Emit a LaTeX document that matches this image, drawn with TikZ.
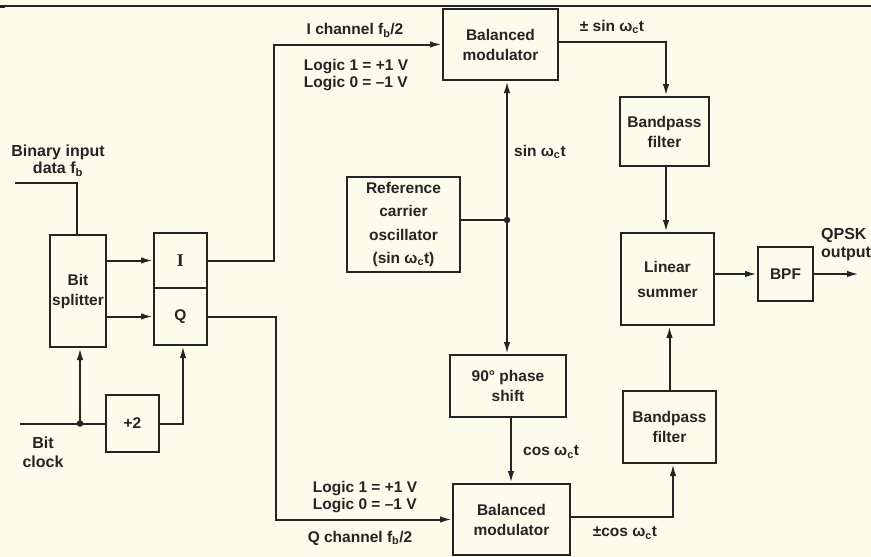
\documentclass[tikz,border=0pt]{standalone}
\usepackage{fontspec}
\setmainfont{Liberation Sans}
\newfontfamily\serifI{Liberation Serif}
\usetikzlibrary{arrows.meta}
\definecolor{bg}{RGB}{252,252,237}
\definecolor{ink}{RGB}{36,36,36}
\tikzset{
  blk/.style={draw=ink, line width=2pt, align=center, inner sep=0pt, text=ink,
    font=\bfseries\fontsize{15.5}{20}\selectfont},
  lbl/.style={text=ink, align=center, inner sep=0pt,
    font=\bfseries\fontsize{15.5}{17}\selectfont},
  wire/.style={draw=ink, line width=2pt},
  arr/.style={wire, -{Latex[length=12pt,width=6.5pt]}},
  jdot/.style={fill=ink, circle, inner sep=0pt, minimum size=6.5pt},
}
\newcommand{\wct}{ω\textsubscript{c}t}
\begin{document}
\begin{tikzpicture}[x=1pt,y=-1pt]
\fill[bg] (0,0) rectangle (871,557);
\useasboundingbox (0,0) rectangle (871,557);
\draw[ink, line width=1.3pt] (0,6) -- (871,6);
\fill[ink] (0,4.8) rectangle (5,8);

% blocks
\node[blk, minimum width=56pt, minimum height=112pt] (split) at (78,291) {Bit\\splitter};
\node[blk, minimum width=53pt, minimum height=55pt] (iI) at (180.5,260.5) {\serifI\bfseries\fontsize{18}{20}\selectfont I};
\node[blk, minimum width=53pt, minimum height=57pt] (iQ) at (180.5,316.5) {Q};
\node[blk, minimum width=53pt, minimum height=57pt] (div) at (132.5,423.5) {+2};
\node[blk, minimum width=115pt, minimum height=71pt] (mod1) at (500.5,44.5) {Balanced\\modulator};
\node[blk, minimum width=113pt, minimum height=95pt,
  font=\bfseries\fontsize{15.5}{23.5}\selectfont] (osc) at (403.5,224.5)
  {Reference\\carrier\\oscillator\\(sin \wct)};
\node[blk, minimum width=116pt, minimum height=62pt] (ph) at (508,386) {90° phase\\shift};
\node[blk, minimum width=117pt, minimum height=71pt] (mod2) at (511.5,519.5) {Balanced\\modulator};
\node[blk, minimum width=89pt, minimum height=69pt] (bp1) at (664.5,131.5) {Bandpass\\filter};
\node[blk, minimum width=93pt, minimum height=92pt,
  font=\bfseries\fontsize{15.5}{25}\selectfont] (sum) at (667.5,279) {Linear\\summer};
\node[blk, minimum width=55pt, minimum height=54pt] (bpf) at (785.5,274) {BPF};
\node[blk, minimum width=93pt, minimum height=72pt] (bp2) at (669.5,427) {Bandpass\\filter};

% free ends and junctions
\coordinate (bin) at (15,183);
\coordinate (clk) at (20,423.5);
\coordinate (j1) at (80,423.5);
\coordinate (j2) at (507,220);
\coordinate (out) at (859,274);

% connectors
\draw[wire] (bin) -| ([xshift=-1pt]split.north);
\draw[arr] (split.east |- iI.west) -- (iI.west);
\draw[arr] (split.east |- iQ.west) -- (iQ.west);
\draw[wire] (clk) -- (div.west);
\draw[arr] (j1) -- (j1 |- split.south);
\node[jdot] (d1) at (j1) {};
\draw[arr] (div.east) -| ([xshift=2.5pt]iQ.south);
\draw[arr] (iI.east) -- ++(66,0) |- (mod1.west);
\draw[arr] (iQ.east) -- ++(68,0) |- (mod2.west);
\draw[wire] (osc.east |- j2) -- (j2);
\draw[arr] (j2) -- (j2 |- mod1.south);
\draw[arr] (j2) -- (j2 |- ph.north);
\node[jdot] (d2) at (j2) {};
\draw[arr] ([xshift=3pt]ph.south) -- ([xshift=3pt]ph.south |- mod2.north);
\draw[arr] ([yshift=2.5pt]mod1.east) -| ([xshift=1.5pt]bp1.north);
\draw[arr] ([xshift=1.5pt]bp1.south) -- ([xshift=1.5pt]bp1.south |- sum.north);
\draw[arr] (sum.east |- bpf.west) -- (bpf.west);
\draw[arr] (bpf.east) -- (out);
\draw[arr] ([yshift=2.5pt]mod2.east) -| ([xshift=3.5pt]bp2.south);
\draw[arr] (bp2.north) -- (bp2.north |- sum.south);

% labels
\node[lbl, font=\bfseries\fontsize{16}{17}\selectfont] (tin) at (58,161) {Binary input\\data f\textsubscript{b}};
\node[lbl, font=\bfseries\fontsize{16}{19}\selectfont] (tclk) at (43,452) {Bit\\clock};
\node[lbl, align=left, anchor=west, font=\bfseries\fontsize{16}{18}\selectfont] (tout) at (821,245) {QPSK\\output};
\node[lbl] (tich) at (355,30) {I channel f\textsubscript{b}/2};
\node[lbl, align=left] (tlog1) at (356,75) {Logic 1 = +1 V\\Logic 0 = –1 V};
\node[lbl, align=left] (tlog2) at (365,497) {Logic 1 = +1 V\\Logic 0 = –1 V};
\node[lbl] (tqch) at (360,538) {Q channel f\textsubscript{b}/2};
\node[lbl, anchor=west] (tsin) at (514,152) {sin \wct};
\node[lbl, anchor=west] (tcos) at (523,452) {cos \wct};
\node[lbl] (tpsin) at (612,27) {± sin \wct};
\node[lbl] (tpcos) at (625,533) {±cos \wct};
\end{tikzpicture}
\end{document}
